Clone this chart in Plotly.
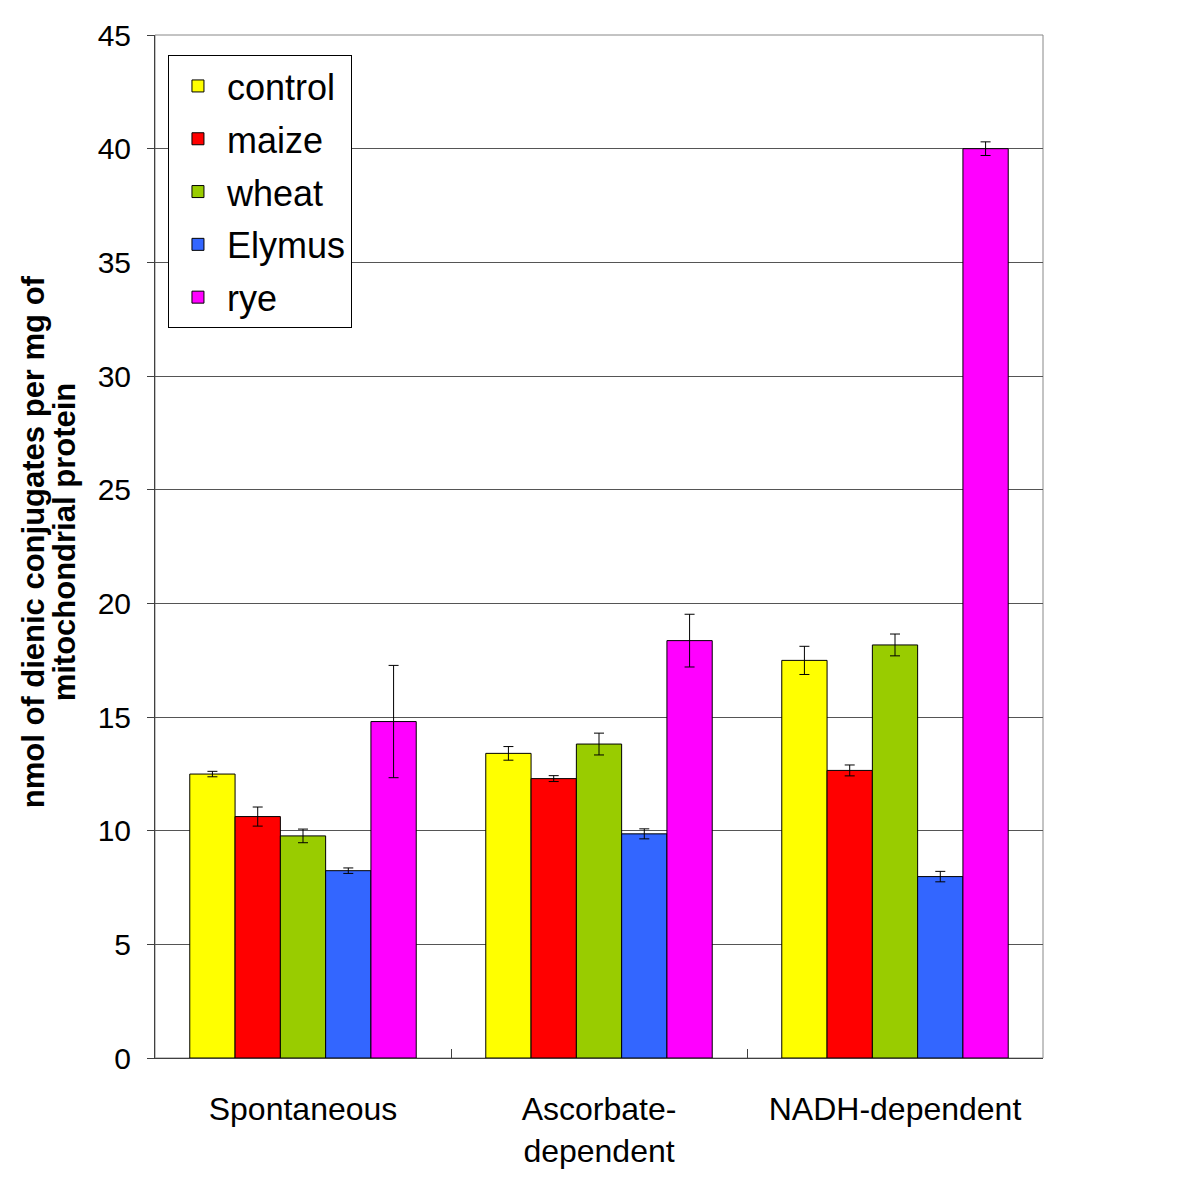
import plotly.graph_objects as go

categories = ["Spontaneous", "Ascorbate-<br>dependent", "NADH-dependent"]
series_names = ["control", "maize", "wheat", "Elymus", "rye"]
colors = ["#FFFF00", "#FF0000", "#99CC00", "#3366FF", "#FF00FF"]

control = [12.49, 13.40, 17.49]
maize = [10.62, 12.29, 12.65]
wheat = [9.77, 13.81, 18.17]
elymus = [8.24, 9.86, 7.98]
rye = [14.80, 18.36, 40.0]

control_err = [0.12, 0.30, 0.62]
maize_err = [0.42, 0.13, 0.24]
wheat_err = [0.30, 0.48, 0.48]
elymus_err = [0.12, 0.22, 0.23]
rye_err = [2.47, 1.16, 0.30]

y_title_lines = ["nmol of dienic conjugates per mg of", "mitochondrial protein"]

values = [control, maize, wheat, elymus, rye]
errors = [control_err, maize_err, wheat_err, elymus_err, rye_err]

fig = go.Figure()
for name, col, v, e in zip(series_names, colors, values, errors):
    fig.add_trace(go.Bar(
        x=categories, y=v, name=name, legendgroup=name,
        marker=dict(color=col, line=dict(color="#000000", width=1)),
        error_y=dict(type="data", array=e, visible=True, color="#000000",
                     thickness=1, width=5),
    ))

FONT = "Liberation Sans, Arial, sans-serif"

fig.update_layout(
    width=1200, height=1200,
    paper_bgcolor="white", plot_bgcolor="white",
    margin=dict(l=147, r=165, t=27, b=150, autoexpand=False),
    barmode="group", bargap=0.235, bargroupgap=0,
    font=dict(family=FONT, size=22, color="black"),
    showlegend=True,
    legend=dict(
        x=0.0146, y=0.9804, xanchor="left", yanchor="top",
        bgcolor="white", bordercolor="#000000", borderwidth=1,
        font=dict(family=FONT, size=36, color="black"),
        tracegroupgap=3, itemwidth=48,
        traceorder="grouped",
    ),
    xaxis=dict(
        showline=True, linecolor="#404040", linewidth=1,
        ticks="inside", tickson="boundaries", ticklen=9, tickcolor="#404040",
        tickfont=dict(family=FONT, size=32, color="black"),
        ticklabelstandoff=23,
        showgrid=False,
    ),
    yaxis=dict(
        range=[0, 45], dtick=5,
        showline=True, linecolor="#404040", linewidth=1,
        ticks="outside", ticklen=7, tickcolor="#404040",
        tickfont=dict(family=FONT, size=30, color="black"),
        ticklabelstandoff=10,
        showgrid=True, gridcolor="#555555", gridwidth=1,
        zeroline=False,
    ),
    shapes=[dict(type="rect", xref="paper", yref="paper", x0=0, x1=1, y0=0, y1=1,
                 line=dict(color="#888888", width=1), layer="below")],
    annotations=[
        dict(text="<b>" + y_title_lines[0] + "</b>", textangle=-90,
             xref="paper", yref="paper", x=-0.1375, y=0.505,
             xanchor="center", yanchor="middle", showarrow=False,
             font=dict(family=FONT, size=31, color="black")),
        dict(text="<b>" + y_title_lines[1] + "</b>", textangle=-90,
             xref="paper", yref="paper", x=-0.1025, y=0.505,
             xanchor="center", yanchor="middle", showarrow=False,
             font=dict(family=FONT, size=31, color="black")),
    ],
)

fig.write_html("out.html")
